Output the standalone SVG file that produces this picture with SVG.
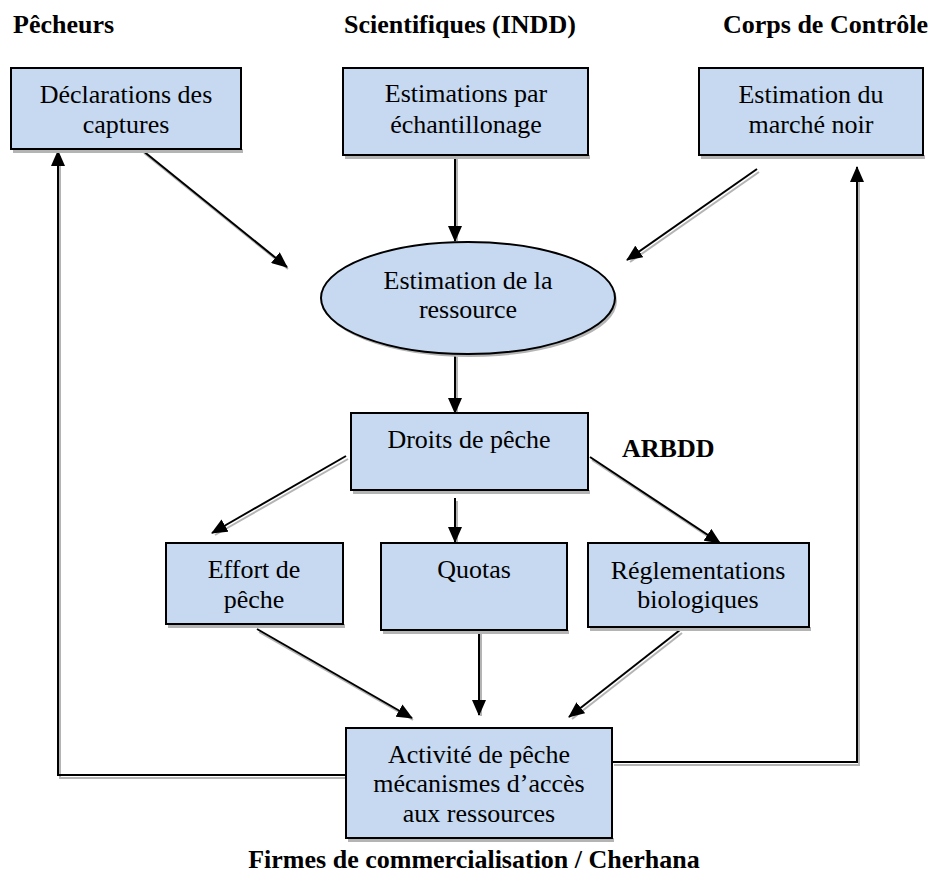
<svg xmlns="http://www.w3.org/2000/svg" width="934" height="878" viewBox="0 0 934 878">
<defs>
<style>
.box{fill:#c6d9f1;stroke:#000;stroke-width:2}
.sh{fill:#b4b4b4}
.t{font-family:"Liberation Serif","Times New Roman",serif;font-size:26px;fill:#000;text-anchor:middle}
.h{font-family:"Liberation Serif","Times New Roman",serif;font-size:26px;font-weight:bold;fill:#000}
.ln{fill:none;stroke:#000;stroke-width:2}
.lns{fill:none;stroke:#b4b4b4;stroke-width:2}
</style>
<marker id="ah" markerUnits="userSpaceOnUse" markerWidth="16" markerHeight="14" refX="15" refY="7" orient="auto">
<path d="M0,0 L16,7 L0,14 z" fill="#000"/>
</marker>
</defs>
<rect width="934" height="878" fill="#fff"/>

<text class="h" x="13" y="33">Pêcheurs</text>
<text class="h" x="344" y="33">Scientifiques (INDD)</text>
<text class="h" x="723" y="33">Corps de Contrôle</text>
<text class="h" x="622" y="457">ARBDD</text>
<text class="h" x="474" y="868" text-anchor="middle">Firmes de commercialisation / Cherhana</text>

<g id="connectors">
<g transform="translate(2,3)">
<path class="lns" d="M142,150 L286,266"/>
<path class="lns" d="M455,155 L455,238"/>
<path class="lns" d="M757,169 L628,259"/>
<path class="lns" d="M455,354 L455,411"/>
<path class="lns" d="M346,456 L213,532"/>
<path class="lns" d="M455,498 L455,540"/>
<path class="lns" d="M590,457 L719,542"/>
<path class="lns" d="M257,629 L411,717"/>
<path class="lns" d="M479,630 L479,713"/>
<path class="lns" d="M680,630 L570,716"/>
<path class="lns" d="M346,775 L58,775 L58,153"/>
<path class="lns" d="M612,762 L857,762 L857,169"/>
</g>
<path class="ln" d="M142,150 L287,267" marker-end="url(#ah)"/>
<path class="ln" d="M455,155 L455,241" marker-end="url(#ah)"/>
<path class="ln" d="M757,169 L627,260" marker-end="url(#ah)"/>
<path class="ln" d="M455,354 L455,413" marker-end="url(#ah)"/>
<path class="ln" d="M346,456 L212,533" marker-end="url(#ah)"/>
<path class="ln" d="M455,498 L455,542" marker-end="url(#ah)"/>
<path class="ln" d="M590,457 L720,543" marker-end="url(#ah)"/>
<path class="ln" d="M257,629 L412,718" marker-end="url(#ah)"/>
<path class="ln" d="M479,630 L479,715" marker-end="url(#ah)"/>
<path class="ln" d="M680,630 L569,717" marker-end="url(#ah)"/>
<path class="ln" d="M346,775 L58,775 L58,151" marker-end="url(#ah)"/>
<path class="ln" d="M612,762 L857,762 L857,167" marker-end="url(#ah)"/>
</g>

<g id="declarations">
<rect class="sh" x="13" y="149" width="230" height="4"/>
<rect class="box" x="11" y="68" width="230" height="81"/>
<text class="t" x="126" y="103">Déclarations des</text>
<text class="t" x="126" y="133">captures</text>
</g>

<g id="estimations">
<rect class="sh" x="345" y="155" width="245" height="4"/>
<rect class="box" x="343" y="68" width="245" height="87"/>
<text class="t" x="466" y="102">Estimations par</text>
<text class="t" x="466" y="133">échantillonage</text>
</g>

<g id="marche-noir">
<rect class="sh" x="701" y="155" width="224" height="4"/>
<rect class="box" x="699" y="68" width="224" height="87"/>
<text class="t" x="811" y="103">Estimation du</text>
<text class="t" x="811" y="133">marché noir</text>
</g>

<g id="ressource">
<ellipse class="sh" cx="470" cy="301" rx="147" ry="56"/>
<ellipse class="box" cx="468" cy="298" rx="147" ry="56"/>
<text class="t" x="468" y="289">Estimation de la</text>
<text class="t" x="468" y="318">ressource</text>
</g>

<g id="droits">
<rect class="sh" x="353" y="490" width="237" height="4"/>
<rect class="box" x="351" y="413" width="237" height="77"/>
<text class="t" x="469" y="448">Droits de pêche</text>
</g>

<g id="effort">
<rect class="sh" x="168" y="624" width="177" height="4"/>
<rect class="box" x="166" y="543" width="177" height="81"/>
<text class="t" x="254" y="578">Effort de</text>
<text class="t" x="254" y="608">pêche</text>
</g>

<g id="quotas">
<rect class="sh" x="383" y="630" width="186" height="4"/>
<rect class="box" x="381" y="543" width="186" height="87"/>
<text class="t" x="474" y="578">Quotas</text>
</g>

<g id="reglementations">
<rect class="sh" x="590" y="627" width="221" height="4"/>
<rect class="box" x="588" y="543" width="221" height="84"/>
<text class="t" x="698" y="579">Réglementations</text>
<text class="t" x="698" y="608">biologiques</text>
</g>

<g id="activite">
<rect class="sh" x="348" y="838" width="266" height="4"/>
<rect class="box" x="346" y="728" width="266" height="110"/>
<text class="t" x="479" y="763">Activité de pêche</text>
<text class="t" x="479" y="792">mécanismes d’accès</text>
<text class="t" x="479" y="822">aux ressources</text>
</g>
</svg>
